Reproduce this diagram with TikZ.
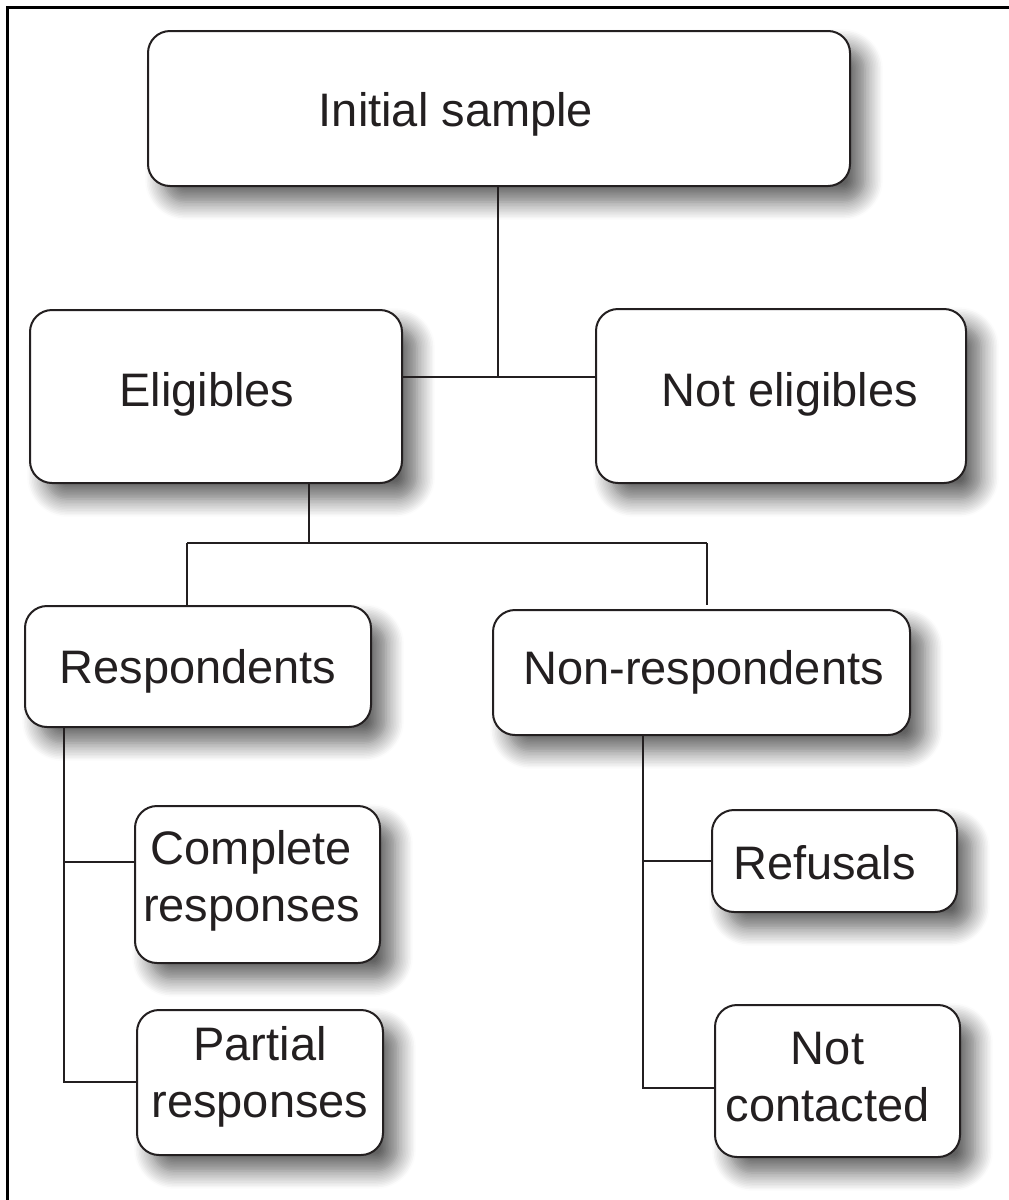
\documentclass[tikz,border=0pt]{standalone}
\usepackage{fontspec}
\setmainfont{Liberation Sans}
\usetikzlibrary{shadows.blur}
\definecolor{ink}{HTML}{231F20}
\begin{document}
\begin{tikzpicture}[x=1pt,y=-1pt,
  box/.style={draw=ink, line width=2pt, fill=white, rounded corners=22pt,
    inner sep=0pt,
    blur shadow={shadow xshift=15pt, shadow yshift=-16pt,
      shadow blur radius=18pt, shadow blur steps=12, shadow opacity=62}},
  txt/.style={align=center, text=ink, inner sep=0pt,
    font=\fontsize{47}{57}\selectfont},
  link/.style={draw=ink, line width=2pt},
  frame/.style={draw=black, line width=3pt}]
\useasboundingbox (0,0) rectangle (1009,1200);

% page frame (left and top rules)
\draw[frame] (7,1200) -- (7,7) -- (1009,7);

% boxes, each carrying its caption as a centred label
\node[box, minimum width=702pt, minimum height=155pt,
  label={[txt, xshift=-43pt, yshift=-6pt]center:Initial sample}] (init) at (499,108.5) {};
\node[box, minimum width=372pt, minimum height=173pt,
  label={[txt, xshift=-9pt, yshift=2pt]center:Eligibles}] (elig) at (216,396.5) {};
\node[box, minimum width=370pt, minimum height=174pt,
  label={[txt, xshift=9pt, yshift=2pt]center:Not eligibles}] (nelig) at (781,396) {};
\node[box, minimum width=346pt, minimum height=121pt,
  label={[txt, yshift=-5pt]center:Respondents}] (resp) at (198,666.5) {};
\node[box, minimum width=417pt, minimum height=125pt,
  label={[txt, xshift=2pt]center:Non-respondents}] (nresp) at (701.5,672.5) {};
\node[box, minimum width=245pt, minimum height=157pt,
  label={[txt, xshift=-6pt, yshift=4pt]center:Complete\\responses}] (comp) at (257.5,884.5) {};
\node[box, minimum width=246pt, minimum height=145pt,
  label={[txt, yshift=6pt]center:Partial\\responses}] (part) at (260,1082.5) {};
\node[box, minimum width=245pt, minimum height=102pt,
  label={[txt, xshift=-10pt, yshift=-2pt]center:Refusals}] (refu) at (834.5,861) {};
\node[box, minimum width=245pt, minimum height=152pt,
  label={[txt, xshift=-10pt, yshift=4pt]center:Not\\contacted}] (ncont) at (837.5,1081) {};

% junction points
\coordinate (j1)  at (498,377);
\coordinate (j2)  at (309,543);
\coordinate (j2l) at (187,543);
\coordinate (j2r) at (707,543);
\coordinate (c1)  at (64,862);
\coordinate (t1)  at (64,1082);
\coordinate (c2)  at (643,861);
\coordinate (t2)  at (643,1088);

% initial sample -> eligibles / not eligibles
\draw[link] (init.south -| j1) -- (j1);
\draw[link] (elig.east |- j1) -- (nelig.west |- j1);

% eligibles -> respondents / non-respondents
\draw[link] (elig.south -| j2) -- (j2);
\draw[link] (j2l) -- (j2r);
\draw[link] (j2l) -- (j2l |- resp.north);
\draw[link] (j2r) -- ([yshift=4pt]j2r |- nresp.north);

% respondents -> complete / partial
\draw[link] (resp.south -| t1) -- (t1) -- (part.west |- t1);
\draw[link] (c1) -- (comp.west |- c1);

% non-respondents -> refusals / not contacted
\draw[link] (nresp.south -| t2) -- (t2) -- (ncont.west |- t2);
\draw[link] (c2) -- (refu.west |- c2);
\end{tikzpicture}
\end{document}
